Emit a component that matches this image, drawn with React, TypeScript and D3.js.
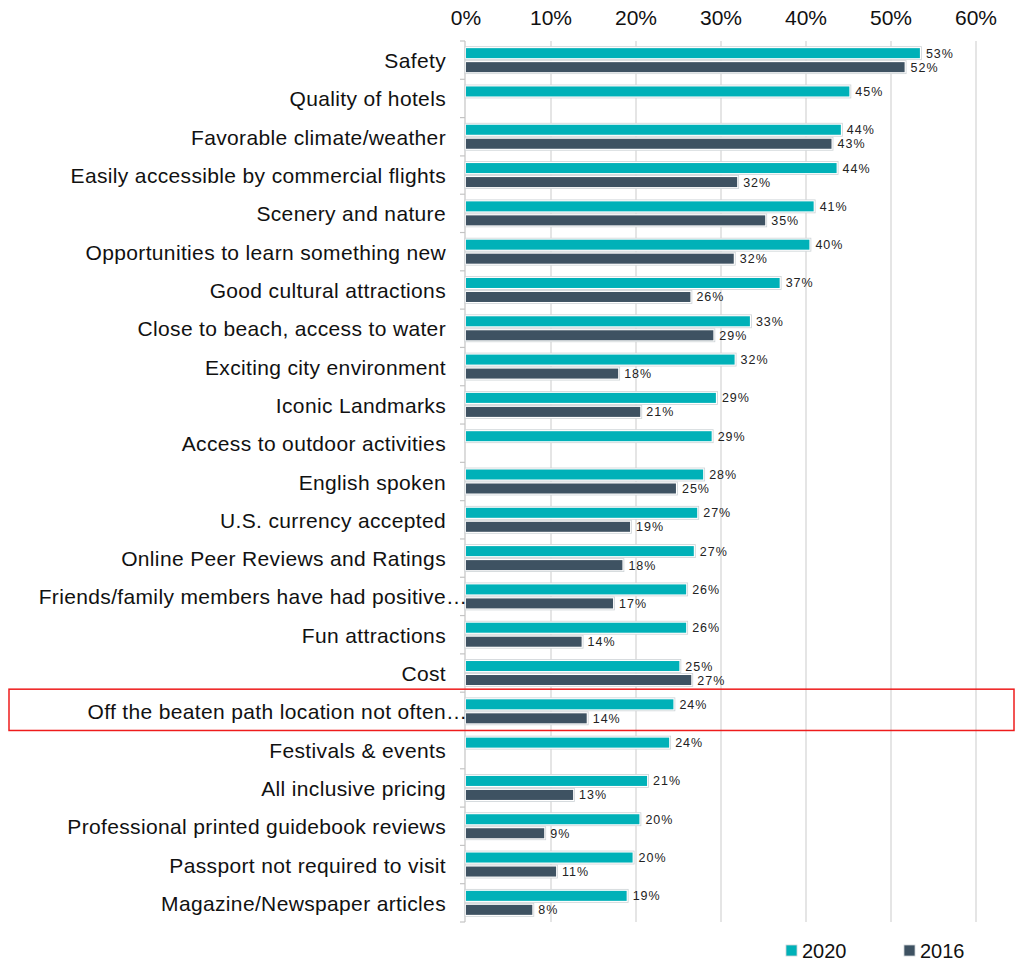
import React from "react";
import * as d3 from "d3";

const categories = [
  "Safety",
  "Quality of hotels",
  "Favorable climate/weather",
  "Easily accessible by commercial flights",
  "Scenery and nature",
  "Opportunities to learn something new",
  "Good cultural attractions",
  "Close to beach, access to water",
  "Exciting city environment",
  "Iconic Landmarks",
  "Access to outdoor activities",
  "English spoken",
  "U.S. currency accepted",
  "Online Peer Reviews and Ratings",
  "Friends/family members have had positive…",
  "Fun attractions",
  "Cost",
  "Off the beaten path location not often…",
  "Festivals & events",
  "All inclusive pricing",
  "Professional printed guidebook reviews",
  "Passport not required to visit",
  "Magazine/Newspaper articles",
];

const values2020 = [
  53.4, 45.1, 44.1, 43.6, 40.9, 40.4, 36.9, 33.4, 31.6, 29.4, 28.9, 27.9, 27.2,
  26.8, 25.9, 25.9, 25.1, 24.4, 23.9, 21.3, 20.4, 19.6, 18.9,
];
const values2016: (number | null)[] = [
  51.6, null, 43.0, 31.9, 35.2, 31.5, 26.4, 29.1, 17.9, 20.5, null, 24.7, 19.3,
  18.4, 17.3, 13.6, 26.5, 14.2, null, 12.6, 9.2, 10.6, 7.8,
];

const seriesNames = ["2020", "2016"];
const seriesColors = ["#00B1B8", "#3E5262"];
const xTicks = [0, 10, 20, 30, 40, 50, 60];
const highlighted = "Off the beaten path location not often…";

const W = 1017;
const H = 963;
const FONT = "'Liberation Sans', Arial, Helvetica, sans-serif";

export default function App() {
  const x = d3.scaleLinear().domain([0, 60]).range([466, 976]);
  const y = d3.scaleBand().domain(categories).range([41, 922]).padding(0);
  const bw = y.bandwidth();
  const barH = 10;

  const series = [values2020, values2016];

  return (
    <svg
      width={W}
      height={H}
      style={{ position: "absolute", left: 0, top: 0, background: "#fff" }}
      fontFamily={FONT}
    >
      {/* gridlines */}
      {xTicks.slice(1).map((t) => (
        <line
          key={"g" + t}
          x1={x(t)}
          x2={x(t)}
          y1={41}
          y2={922}
          stroke="#d4d4d4"
          strokeWidth={1.2}
        />
      ))}
      {/* axis labels top */}
      {xTicks.map((t) => (
        <text
          key={"t" + t}
          x={x(t)}
          y={25}
          textAnchor="middle"
          fontSize={21}
          fill="#111"
        >
          {t + "%"}
        </text>
      ))}
      {/* left axis line */}
      <line x1={465} x2={465} y1={41} y2={922} stroke="#c4c4c4" strokeWidth={1.2} />
      {d3.range(categories.length + 1).map((i) => (
        <line
          key={"tk" + i}
          x1={460}
          x2={465}
          y1={41 + i * bw}
          y2={41 + i * bw}
          stroke="#c4c4c4"
          strokeWidth={1.2}
        />
      ))}
      {/* bars */}
      {categories.map((c, i) => {
        const cy = (y(c) as number) + bw / 2;
        return (
          <g key={c}>
            {series.map((vals, s) => {
              const v = vals[i];
              if (v == null) return null;
              const top = s === 0 ? cy - 12 : cy + 2;
              const w = x(v) - x(0);
              return (
                <g key={s}>
                  <rect
                    x={x(0) - 1}
                    y={top - 1.5}
                    width={w + 2.5}
                    height={barH + 3}
                    fill="#fff"
                    stroke="#cdd3d6"
                    strokeWidth={0.8}
                  />
                  <rect
                    x={x(0)}
                    y={top}
                    width={w}
                    height={barH}
                    fill={seriesColors[s]}
                  />
                  <text
                    x={x(v) + 6}
                    y={top + barH / 2 + 4.5}
                    fontSize={12.5}
                    fill="#222"
                    letterSpacing={1}
                  >
                    {Math.round(v) + "%"}
                  </text>
                </g>
              );
            })}
            {c.endsWith("…") ? (
              <>
                <text
                  x={446}
                  y={cy + 8}
                  textAnchor="end"
                  fontSize={21}
                  letterSpacing={0.35}
                  fill="#111"
                >
                  {c.slice(0, -1)}
                </text>
                <text x={446} y={cy + 8} fontSize={21} fill="#111">
                  …
                </text>
              </>
            ) : (
              <text
                x={446}
                y={cy + 8}
                textAnchor="end"
                fontSize={21}
                letterSpacing={0.35}
                fill="#111"
              >
                {c}
              </text>
            )}
          </g>
        );
      })}
      {/* highlight box */}
      {(() => {
        const yy = y(highlighted) as number;
        return (
          <rect
            x={9}
            y={yy - 3}
            width={1005}
            height={bw + 3}
            fill="none"
            stroke="#ee1c1c"
            strokeWidth={1.5}
          />
        );
      })()}
      {/* legend */}
      {seriesNames.map((n, i) => {
        const lx = 786 + i * 118;
        return (
          <g key={n}>
            <rect
              x={lx}
              y={945}
              width={11}
              height={11}
              fill={seriesColors[i]}
              stroke="#cdd3d6"
              strokeWidth={0.8}
            />
            <text x={lx + 16} y={958} fontSize={20} fill="#111">
              {n}
            </text>
          </g>
        );
      })}
    </svg>
  );
}
